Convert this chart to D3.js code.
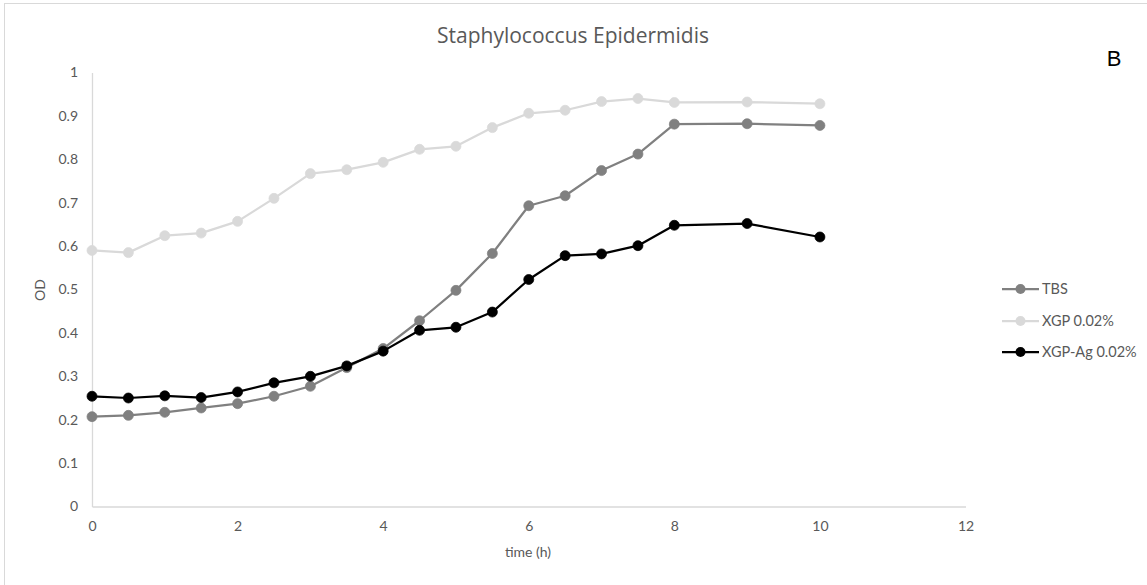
<!DOCTYPE html>
<html>
<head>
<meta charset="utf-8">
<script src="https://cdn.jsdelivr.net/npm/d3@7/dist/d3.min.js"></script>
<style>
  html, body { margin: 0; padding: 0; background: #fff; }
  svg { display: block; }
  text { font-family: Lato, "Open Sans", sans-serif; }
</style>
</head>
<body>
<svg id="chart" width="1147" height="585"></svg>
<script>
// ---- Data ----
const timesMain = [0, 0.5, 1, 1.5, 2, 2.5, 3, 3.5, 4, 4.5, 5, 5.5, 6, 6.5, 7, 7.5, 8, 9, 10];
const seriesNames = ["TBS", "XGP 0.02%", "XGP-Ag 0.02%"];
const tbsValues   = [0.207, 0.210, 0.217, 0.227, 0.237, 0.254, 0.277, 0.320, 0.364, 0.428, 0.498, 0.583, 0.693, 0.716, 0.774, 0.812, 0.881, 0.882, 0.878];
const xgpValues   = [0.590, 0.585, 0.624, 0.630, 0.657, 0.710, 0.767, 0.776, 0.793, 0.823, 0.830, 0.873, 0.906, 0.913, 0.933, 0.940, 0.931, 0.932, 0.928];
const xgpAgValues = [0.254, 0.250, 0.255, 0.251, 0.264, 0.285, 0.300, 0.324, 0.358, 0.406, 0.413, 0.448, 0.523, 0.578, 0.582, 0.601, 0.648, 0.652, 0.621];
const xTicks = [0, 2, 4, 6, 8, 10, 12];
const yTicks = [0, 0.1, 0.2, 0.3, 0.4, 0.5, 0.6, 0.7, 0.8, 0.9, 1];
const seriesColors = ["#808080", "#d9d9d9", "#000000"];

const svg = d3.select("#chart");
const W = 1147, H = 585;

// chart border
svg.append("rect").attr("x", 4.5).attr("y", 3.5).attr("width", W + 10).attr("height", H + 10)
  .attr("fill", "#fff").attr("stroke", "#d9d9d9").attr("stroke-width", 1);

const x = d3.scaleLinear().domain([0, 12]).range([92, 965.5]);
const y = d3.scaleLinear().domain([0, 1]).range([506.5, 72.5]);

const textColor = "#595959";

// axes
const xAxis = svg.append("g").attr("transform", `translate(0,${y(0)})`)
  .call(d3.axisBottom(x).tickValues(xTicks).tickSize(0).tickPadding(15).tickFormat(d3.format("d")));
xAxis.select(".domain").attr("stroke", "#d9d9d9").attr("stroke-width", 1.3);
xAxis.selectAll("text").attr("fill", textColor).style("font-size", "14px");

const yAxis = svg.append("g").attr("transform", `translate(${x(0)},0)`)
  .call(d3.axisLeft(y).tickValues(yTicks).tickSize(0).tickPadding(14).tickFormat(d => d === 0 || d === 1 ? String(d) : d3.format(".1f")(d)));
yAxis.select(".domain").attr("stroke", "#d9d9d9").attr("stroke-width", 1.3);
yAxis.selectAll("text").attr("fill", textColor).style("font-size", "14px");

// title (centred on the chart area)
svg.append("text").attr("x", 573).attr("y", 43).attr("text-anchor", "middle")
  .attr("fill", textColor).style("font-size", "21px").style("font-family", "'Open Sans', sans-serif")
  .text("Staphylococcus Epidermidis");
svg.append("text").attr("x", 1114).attr("y", 66).attr("text-anchor", "middle")
  .attr("fill", "#000").style("font-size", "22px").style("font-family", "'Liberation Sans', sans-serif").text("B");

// axis titles
svg.append("text").attr("x", 528).attr("y", 557).attr("text-anchor", "middle")
  .attr("fill", textColor).style("font-size", "14px").text("time (h)");
svg.append("text").attr("transform", "translate(45,290) rotate(-90)").attr("text-anchor", "middle")
  .attr("fill", textColor).style("font-size", "14px").text("OD");

// series
const allValues = [tbsValues, xgpValues, xgpAgValues];
const line = d3.line().x(d => x(d[0])).y(d => y(d[1]));
// draw order: XGP (light) first, then TBS, then XGP-Ag on top
[1, 0, 2].forEach(i => {
  const pts = timesMain.map((t, k) => [t, allValues[i][k]]);
  const g = svg.append("g");
  g.append("path").datum(pts).attr("d", line).attr("fill", "none")
    .attr("stroke", seriesColors[i]).attr("stroke-width", 2.25).attr("stroke-linejoin", "round");
  g.selectAll("circle").data(pts).enter().append("circle")
    .attr("cx", d => x(d[0])).attr("cy", d => y(d[1])).attr("r", 5)
    .attr("fill", seriesColors[i]).attr("stroke", seriesColors[i]).attr("stroke-width", 0.75);
});

// legend
const legendY = [289, 321, 352];
seriesNames.forEach((name, i) => {
  const g = svg.append("g").attr("transform", `translate(1002,${legendY[i]})`);
  g.append("line").attr("x1", 0).attr("x2", 37).attr("y1", 0).attr("y2", 0)
    .attr("stroke", seriesColors[i]).attr("stroke-width", 2.25);
  g.append("circle").attr("cx", 18.5).attr("cy", 0).attr("r", 5).attr("fill", seriesColors[i]);
  g.append("text").attr("x", 40).attr("y", 0).attr("dy", "0.35em")
    .attr("fill", textColor).style("font-size", "14.5px").text(name);
});
</script>
</body>
</html>
